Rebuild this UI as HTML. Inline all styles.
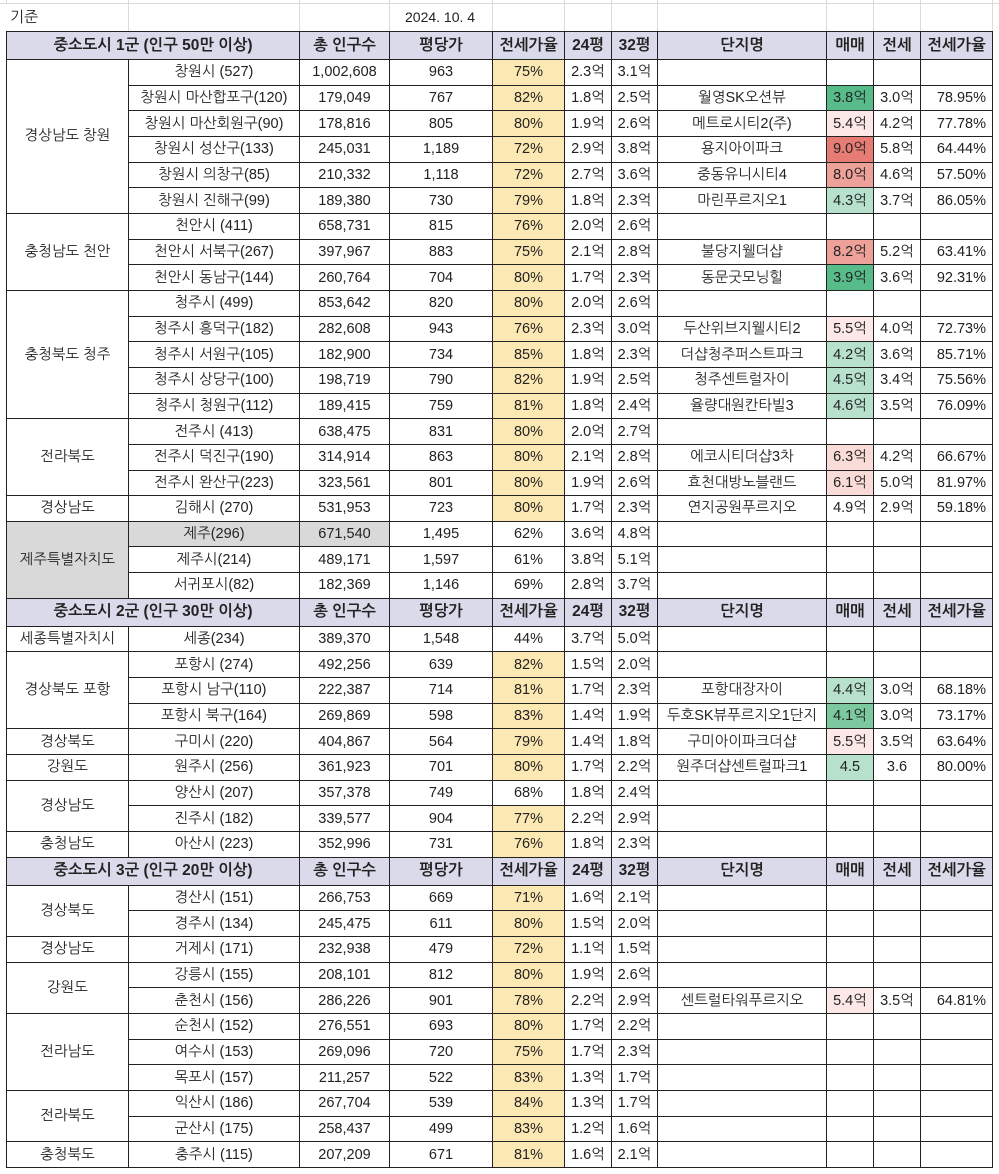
<!DOCTYPE html>
<html><head><meta charset="utf-8">
<style>
html,body{margin:0;padding:0;background:#fff;}
body{width:999px;height:1174px;position:relative;overflow:hidden;font-family:"Liberation Sans","NanumGothic","Noto Sans CJK KR",sans-serif;font-size:14.5px;color:#222;}
.top{position:absolute;left:0;top:0;width:999px;height:31px;}
.gl{position:absolute;top:0;height:31px;width:1px;background:#dadada;}
.hl{position:absolute;left:0;width:999px;height:1px;background:#dadada;}
table{position:absolute;left:6px;top:31px;border-collapse:collapse;table-layout:fixed;}
td{border:1px solid #222;padding:0 2px;text-align:center;white-space:nowrap;overflow:hidden;line-height:16px;}
tr{height:25.66px;}
tr.h{height:28px;}
tr.h td{background:#dadaea;font-weight:bold;font-size:15.5px;}
td.r{text-align:right;padding-right:6px;}
.y{background:#fce8b2;}
.gy{background:#d9d9d9;}
.g1{background:#57bb8a;}
.g2{background:#7cc9a0;}
.g3{background:#b7e1cd;}
.p{background:#fce8e6;}
.p2{background:#f9dcd8;}
.r1{background:#e67c73;}
.r2{background:#eda199;}
</style></head><body>
<div class="top">
<div class="hl" style="top:3px"></div>
<div class="gl" style="left:6px"></div>
<div class="gl" style="left:128px"></div>
<div class="gl" style="left:299px"></div>
<div class="gl" style="left:389px"></div>
<div class="gl" style="left:492px"></div>
<div class="gl" style="left:564px"></div>
<div class="gl" style="left:611px"></div>
<div class="gl" style="left:657px"></div>
<div class="gl" style="left:826px"></div>
<div class="gl" style="left:873px"></div>
<div class="gl" style="left:920px"></div>
<div class="gl" style="left:992px"></div>
<div style="position:absolute;left:6px;top:4px;width:122px;height:27px;background:#fff;"></div>
<div style="position:absolute;left:10px;top:8px;font-size:15px;">기준</div>
<div style="position:absolute;left:390px;top:4px;width:101px;height:27px;background:#fff;"></div>
<div style="position:absolute;left:405px;top:9px;font-size:14px;">2024. 10. 4</div>
</div>
<table>
<colgroup><col style="width:122px"><col style="width:171px"><col style="width:90px"><col style="width:103px"><col style="width:72px"><col style="width:47px"><col style="width:46px"><col style="width:169px"><col style="width:47px"><col style="width:47px"><col style="width:72px"></colgroup>
<tr class="h"><td colspan="2">중소도시 1군 (인구 50만 이상)</td><td>총 인구수</td><td>평당가</td><td>전세가율</td><td>24평</td><td>32평</td><td>단지명</td><td>매매</td><td>전세</td><td>전세가율</td></tr>
<tr><td rowspan="6">경상남도 창원</td><td>창원시 (527)</td><td>1,002,608</td><td>963</td><td class="y">75%</td><td>2.3억</td><td>3.1억</td><td></td><td></td><td></td><td></td></tr>
<tr><td>창원시 마산합포구(120)</td><td>179,049</td><td>767</td><td class="y">82%</td><td>1.8억</td><td>2.5억</td><td>월영SK오션뷰</td><td class="g1">3.8억</td><td>3.0억</td><td class="r">78.95%</td></tr>
<tr><td>창원시 마산회원구(90)</td><td>178,816</td><td>805</td><td class="y">80%</td><td>1.9억</td><td>2.6억</td><td>메트로시티2(주)</td><td class="p">5.4억</td><td>4.2억</td><td class="r">77.78%</td></tr>
<tr><td>창원시 성산구(133)</td><td>245,031</td><td>1,189</td><td class="y">72%</td><td>2.9억</td><td>3.8억</td><td>용지아이파크</td><td class="r1">9.0억</td><td>5.8억</td><td class="r">64.44%</td></tr>
<tr><td>창원시 의창구(85)</td><td>210,332</td><td>1,118</td><td class="y">72%</td><td>2.7억</td><td>3.6억</td><td>중동유니시티4</td><td class="r2">8.0억</td><td>4.6억</td><td class="r">57.50%</td></tr>
<tr><td>창원시 진해구(99)</td><td>189,380</td><td>730</td><td class="y">79%</td><td>1.8억</td><td>2.3억</td><td>마린푸르지오1</td><td class="g3">4.3억</td><td>3.7억</td><td class="r">86.05%</td></tr>
<tr><td rowspan="3">충청남도 천안</td><td>천안시 (411)</td><td>658,731</td><td>815</td><td class="y">76%</td><td>2.0억</td><td>2.6억</td><td></td><td></td><td></td><td></td></tr>
<tr><td>천안시 서북구(267)</td><td>397,967</td><td>883</td><td class="y">75%</td><td>2.1억</td><td>2.8억</td><td>불당지웰더샵</td><td class="r2">8.2억</td><td>5.2억</td><td class="r">63.41%</td></tr>
<tr><td>천안시 동남구(144)</td><td>260,764</td><td>704</td><td class="y">80%</td><td>1.7억</td><td>2.3억</td><td>동문굿모닝힐</td><td class="g1">3.9억</td><td>3.6억</td><td class="r">92.31%</td></tr>
<tr><td rowspan="5">충청북도 청주</td><td>청주시 (499)</td><td>853,642</td><td>820</td><td class="y">80%</td><td>2.0억</td><td>2.6억</td><td></td><td></td><td></td><td></td></tr>
<tr><td>청주시 흥덕구(182)</td><td>282,608</td><td>943</td><td class="y">76%</td><td>2.3억</td><td>3.0억</td><td>두산위브지웰시티2</td><td class="p">5.5억</td><td>4.0억</td><td class="r">72.73%</td></tr>
<tr><td>청주시 서원구(105)</td><td>182,900</td><td>734</td><td class="y">85%</td><td>1.8억</td><td>2.3억</td><td>더샵청주퍼스트파크</td><td class="g3">4.2억</td><td>3.6억</td><td class="r">85.71%</td></tr>
<tr><td>청주시 상당구(100)</td><td>198,719</td><td>790</td><td class="y">82%</td><td>1.9억</td><td>2.5억</td><td>청주센트럴자이</td><td class="g3">4.5억</td><td>3.4억</td><td class="r">75.56%</td></tr>
<tr><td>청주시 청원구(112)</td><td>189,415</td><td>759</td><td class="y">81%</td><td>1.8억</td><td>2.4억</td><td>율량대원칸타빌3</td><td class="g3">4.6억</td><td>3.5억</td><td class="r">76.09%</td></tr>
<tr><td rowspan="3">전라북도</td><td>전주시 (413)</td><td>638,475</td><td>831</td><td class="y">80%</td><td>2.0억</td><td>2.7억</td><td></td><td></td><td></td><td></td></tr>
<tr><td>전주시 덕진구(190)</td><td>314,914</td><td>863</td><td class="y">80%</td><td>2.1억</td><td>2.8억</td><td>에코시티더샵3차</td><td class="p2">6.3억</td><td>4.2억</td><td class="r">66.67%</td></tr>
<tr><td>전주시 완산구(223)</td><td>323,561</td><td>801</td><td class="y">80%</td><td>1.9억</td><td>2.6억</td><td>효천대방노블랜드</td><td class="p2">6.1억</td><td>5.0억</td><td class="r">81.97%</td></tr>
<tr><td>경상남도</td><td>김해시 (270)</td><td>531,953</td><td>723</td><td class="y">80%</td><td>1.7억</td><td>2.3억</td><td>연지공원푸르지오</td><td>4.9억</td><td>2.9억</td><td class="r">59.18%</td></tr>
<tr><td rowspan="3" class="gy">제주특별자치도</td><td class="gy">제주(296)</td><td class="gy">671,540</td><td>1,495</td><td>62%</td><td>3.6억</td><td>4.8억</td><td></td><td></td><td></td><td></td></tr>
<tr><td>제주시(214)</td><td>489,171</td><td>1,597</td><td>61%</td><td>3.8억</td><td>5.1억</td><td></td><td></td><td></td><td></td></tr>
<tr><td>서귀포시(82)</td><td>182,369</td><td>1,146</td><td>69%</td><td>2.8억</td><td>3.7억</td><td></td><td></td><td></td><td></td></tr>
<tr class="h"><td colspan="2">중소도시 2군 (인구 30만 이상)</td><td>총 인구수</td><td>평당가</td><td>전세가율</td><td>24평</td><td>32평</td><td>단지명</td><td>매매</td><td>전세</td><td>전세가율</td></tr>
<tr><td>세종특별자치시</td><td>세종(234)</td><td>389,370</td><td>1,548</td><td>44%</td><td>3.7억</td><td>5.0억</td><td></td><td></td><td></td><td></td></tr>
<tr><td rowspan="3">경상북도 포항</td><td>포항시 (274)</td><td>492,256</td><td>639</td><td class="y">82%</td><td>1.5억</td><td>2.0억</td><td></td><td></td><td></td><td></td></tr>
<tr><td>포항시 남구(110)</td><td>222,387</td><td>714</td><td class="y">81%</td><td>1.7억</td><td>2.3억</td><td>포항대장자이</td><td class="g3">4.4억</td><td>3.0억</td><td class="r">68.18%</td></tr>
<tr><td>포항시 북구(164)</td><td>269,869</td><td>598</td><td class="y">83%</td><td>1.4억</td><td>1.9억</td><td>두호SK뷰푸르지오1단지</td><td class="g2">4.1억</td><td>3.0억</td><td class="r">73.17%</td></tr>
<tr><td>경상북도</td><td>구미시 (220)</td><td>404,867</td><td>564</td><td class="y">79%</td><td>1.4억</td><td>1.8억</td><td>구미아이파크더샵</td><td class="p">5.5억</td><td>3.5억</td><td class="r">63.64%</td></tr>
<tr><td>강원도</td><td>원주시 (256)</td><td>361,923</td><td>701</td><td class="y">80%</td><td>1.7억</td><td>2.2억</td><td>원주더샵센트럴파크1</td><td class="g3">4.5</td><td>3.6</td><td class="r">80.00%</td></tr>
<tr><td rowspan="2">경상남도</td><td>양산시 (207)</td><td>357,378</td><td>749</td><td>68%</td><td>1.8억</td><td>2.4억</td><td></td><td></td><td></td><td></td></tr>
<tr><td>진주시 (182)</td><td>339,577</td><td>904</td><td class="y">77%</td><td>2.2억</td><td>2.9억</td><td></td><td></td><td></td><td></td></tr>
<tr><td>충청남도</td><td>아산시 (223)</td><td>352,996</td><td>731</td><td class="y">76%</td><td>1.8억</td><td>2.3억</td><td></td><td></td><td></td><td></td></tr>
<tr class="h"><td colspan="2">중소도시 3군 (인구 20만 이상)</td><td>총 인구수</td><td>평당가</td><td>전세가율</td><td>24평</td><td>32평</td><td>단지명</td><td>매매</td><td>전세</td><td>전세가율</td></tr>
<tr><td rowspan="2">경상북도</td><td>경산시 (151)</td><td>266,753</td><td>669</td><td class="y">71%</td><td>1.6억</td><td>2.1억</td><td></td><td></td><td></td><td></td></tr>
<tr><td>경주시 (134)</td><td>245,475</td><td>611</td><td class="y">80%</td><td>1.5억</td><td>2.0억</td><td></td><td></td><td></td><td></td></tr>
<tr><td>경상남도</td><td>거제시 (171)</td><td>232,938</td><td>479</td><td class="y">72%</td><td>1.1억</td><td>1.5억</td><td></td><td></td><td></td><td></td></tr>
<tr><td rowspan="2">강원도</td><td>강릉시 (155)</td><td>208,101</td><td>812</td><td class="y">80%</td><td>1.9억</td><td>2.6억</td><td></td><td></td><td></td><td></td></tr>
<tr><td>춘천시 (156)</td><td>286,226</td><td>901</td><td class="y">78%</td><td>2.2억</td><td>2.9억</td><td>센트럴타워푸르지오</td><td class="p">5.4억</td><td>3.5억</td><td class="r">64.81%</td></tr>
<tr><td rowspan="3">전라남도</td><td>순천시 (152)</td><td>276,551</td><td>693</td><td class="y">80%</td><td>1.7억</td><td>2.2억</td><td></td><td></td><td></td><td></td></tr>
<tr><td>여수시 (153)</td><td>269,096</td><td>720</td><td class="y">75%</td><td>1.7억</td><td>2.3억</td><td></td><td></td><td></td><td></td></tr>
<tr><td>목포시 (157)</td><td>211,257</td><td>522</td><td class="y">83%</td><td>1.3억</td><td>1.7억</td><td></td><td></td><td></td><td></td></tr>
<tr><td rowspan="2">전라북도</td><td>익산시 (186)</td><td>267,704</td><td>539</td><td class="y">84%</td><td>1.3억</td><td>1.7억</td><td></td><td></td><td></td><td></td></tr>
<tr><td>군산시 (175)</td><td>258,437</td><td>499</td><td class="y">83%</td><td>1.2억</td><td>1.6억</td><td></td><td></td><td></td><td></td></tr>
<tr><td>충청북도</td><td>충주시 (115)</td><td>207,209</td><td>671</td><td class="y">81%</td><td>1.6억</td><td>2.1억</td><td></td><td></td><td></td><td></td></tr>
</table>
</body></html>
